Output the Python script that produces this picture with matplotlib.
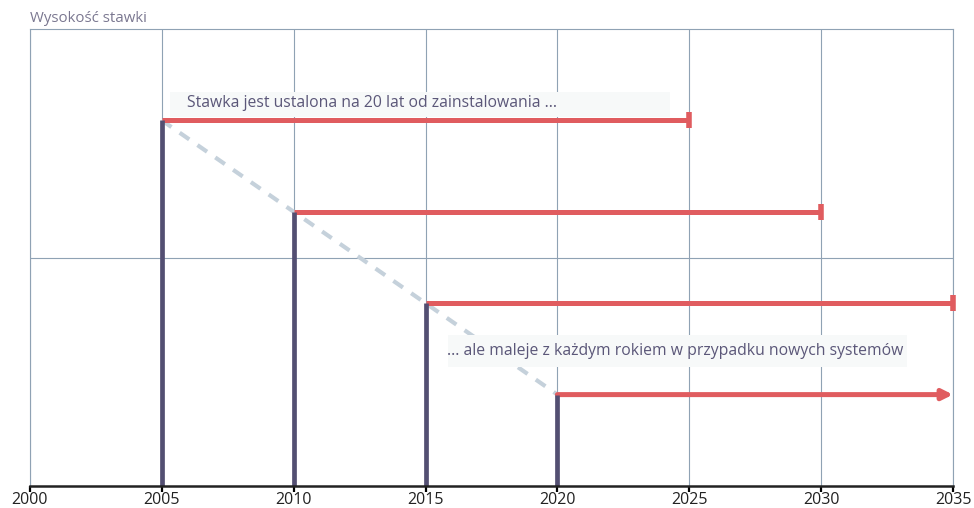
import matplotlib.pyplot as plt
from matplotlib.patches import Rectangle

plt.rcParams["font.family"] = ["Open Sans", "DejaVu Sans"]

# ── data ─────────────────────────────────────────────
install_years = [2005, 2010, 2015, 2020]
rates = [1.6, 1.2, 0.8, 0.4]
term_years = 20
x_ticks = [2000, 2005, 2010, 2015, 2020, 2025, 2030, 2035]

RED = "#e05c5f"
BAR = "#534f72"
DASH = "#c5d1db"
GRID = "#8fa2b4"
TEXT = "#5b5779"
BOX = "#f7f9f9"

fig = plt.figure(figsize=(9.74, 5.08), dpi=100)
ax = fig.add_axes([30 / 974, 22 / 508, 923 / 974, 457 / 508])

ax.set_xlim(2000, 2035)
ax.set_ylim(0, 2)

# grid
for xv in x_ticks:
    ax.axvline(xv, color=GRID, lw=0.8, zorder=1)
ax.axhline(1, color=GRID, lw=0.8, zorder=1)

# declining trend
ax.plot(install_years, rates, color=DASH, lw=3, linestyle=(0, (2.8, 2.4)),
        zorder=2)

# fixed rate for 20 years
for yr, r in zip(install_years, rates):
    end = yr + term_years
    if end <= 2035 and yr < 2020:
        ax.plot([yr, end], [r, r], color=RED, lw=3.6, solid_capstyle="butt",
                zorder=3, clip_on=False)
        ax.plot([end], [r], marker="|", color=RED, markersize=11,
                markeredgewidth=4, zorder=3, clip_on=False)
    else:
        ax.annotate("", xy=(2035, r), xytext=(yr, r), zorder=3,
                    arrowprops=dict(arrowstyle="-|>,head_length=0.6,head_width=0.3",
                                    color=RED, lw=3.6, shrinkA=0, shrinkB=0))

ax.vlines(install_years, 0, rates, color=BAR, lw=3.4, zorder=4)

# annotation boxes
ax.add_patch(Rectangle((2005.3, 1.615), 18.97, 0.11, facecolor=BOX,
                       edgecolor="none", zorder=5))
ax.text(2005.95, 1.674, "Stawka jest ustalona na 20 lat od zainstalowania ...",
        color=TEXT, fontsize=11.3, va="center", ha="left", zorder=6)
ax.add_patch(Rectangle((2015.85, 0.52), 17.4, 0.14, facecolor=BOX,
                       edgecolor="none", zorder=5))
ax.text(2015.8, 0.59, "... ale maleje z każdym rokiem w przypadku nowych systemów",
        color=TEXT, fontsize=11.3, va="center", ha="left", zorder=6)

# axes styling
ax.set_xticks(x_ticks)
ax.set_xticklabels([str(t) for t in x_ticks], fontsize=11.5, color="#222222")
ax.set_yticks([])
ax.tick_params(axis="x", direction="out", length=4, width=1.6, pad=0.5)
for side in ["top", "left", "right"]:
    ax.spines[side].set_color(GRID)
    ax.spines[side].set_linewidth(0.8)
ax.spines["bottom"].set_color("#222222")
ax.spines["bottom"].set_linewidth(1.8)
ax.spines["bottom"].set_zorder(7)

fig.text(30 / 974, 1 - 18 / 508, "Wysokość stawki", color="#7a7790",
         fontsize=10.8, va="center", ha="left")

fig.savefig("out.png", dpi=100, facecolor="white")
